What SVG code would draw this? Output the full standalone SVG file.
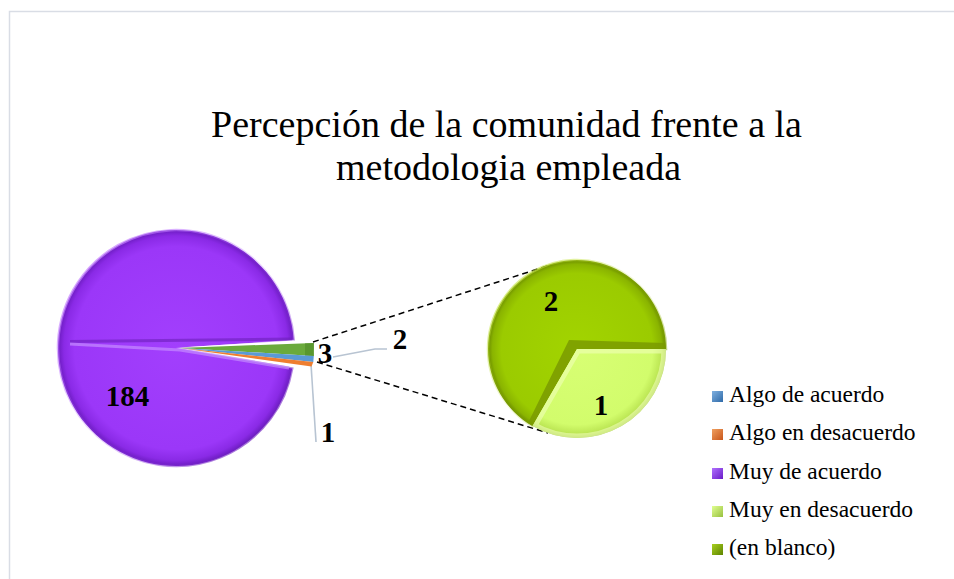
<svg xmlns="http://www.w3.org/2000/svg" width="954" height="579" viewBox="0 0 954 579">
<style>
.title{font-family:"Liberation Serif","Times New Roman",serif;font-size:38px;fill:#000;text-anchor:middle}
.lbl{font-family:"Liberation Serif","Times New Roman",serif;font-size:29px;font-weight:bold;fill:#000;text-anchor:middle}
.leg{font-family:"Liberation Serif","Times New Roman",serif;font-size:23.5px;fill:#000}
.dash{fill:none;stroke:#000;stroke-width:1.5;stroke-dasharray:6 4}
.leader{fill:none;stroke:#b8c4d2;stroke-width:1.6}
</style>
<defs>
<radialGradient id="gPurple" cx="176" cy="348" r="118" gradientUnits="userSpaceOnUse">
<stop offset="0" stop-color="#a23ffd"/><stop offset="0.86" stop-color="#9b37f8"/><stop offset="0.95" stop-color="#8a2ae6"/><stop offset="1" stop-color="#6c1cc0"/>
</radialGradient>
<linearGradient id="gRimP" x1="0" y1="0" x2="1" y2="1">
<stop offset="0" stop-color="#d39bff" stop-opacity="0.9"/><stop offset="0.5" stop-color="#a64bff" stop-opacity="0.2"/><stop offset="1" stop-color="#5a10a8" stop-opacity="0.8"/>
</linearGradient>
<radialGradient id="gDark" cx="577" cy="349" r="89" gradientUnits="userSpaceOnUse">
<stop offset="0" stop-color="#a2d400"/><stop offset="0.85" stop-color="#9bcb00"/><stop offset="0.95" stop-color="#8ab400"/><stop offset="1" stop-color="#6d8e00"/>
</radialGradient>
<radialGradient id="gLight" cx="577" cy="349" r="89" gradientUnits="userSpaceOnUse">
<stop offset="0" stop-color="#d8ff74"/><stop offset="0.85" stop-color="#d2fc6c"/><stop offset="0.95" stop-color="#bce654"/><stop offset="1" stop-color="#9cc43a"/>
</radialGradient>
<linearGradient id="gRimG" x1="0" y1="0" x2="1" y2="1">
<stop offset="0" stop-color="#d4f060" stop-opacity="0.8"/><stop offset="0.5" stop-color="#a8d000" stop-opacity="0.1"/><stop offset="1" stop-color="#5c7a00" stop-opacity="0.8"/>
</linearGradient>
<clipPath id="cLight"><path d="M577,349 L666,349 A89,89 0 0 1 532.5,426.1 Z"/></clipPath>
<linearGradient id="sqBlue" x1="0" y1="0" x2="1" y2="1"><stop offset="0" stop-color="#7fb0e0"/><stop offset="1" stop-color="#2f6aa8"/></linearGradient>
<linearGradient id="sqOrange" x1="0" y1="0" x2="1" y2="1"><stop offset="0" stop-color="#f0a060"/><stop offset="1" stop-color="#c8561a"/></linearGradient>
<linearGradient id="sqPurple" x1="0" y1="0" x2="1" y2="1"><stop offset="0" stop-color="#b070ff"/><stop offset="1" stop-color="#6a1cc8"/></linearGradient>
<linearGradient id="sqLight" x1="0" y1="0" x2="1" y2="1"><stop offset="0" stop-color="#e0ff90"/><stop offset="1" stop-color="#98c040"/></linearGradient>
<linearGradient id="sqGreen" x1="0" y1="0" x2="1" y2="1"><stop offset="0" stop-color="#a8d020"/><stop offset="1" stop-color="#5e8400"/></linearGradient>
</defs>

<rect x="0" y="0" width="954" height="579" fill="#ffffff"/>
<path d="M9.5,585 L9.5,11.5 L960,11.5" fill="none" stroke="#d9dde5" stroke-width="1.5"/>

<g id="title">
<text class="title" x="506.5" y="137">Percepción de la comunidad frente a la</text>
<text class="title" x="508.5" y="180">metodologia empleada</text>
</g>

<g id="connectors">
<path class="dash" d="M313,342 L550,265"/>
<path class="dash" d="M317,362 L548,433"/>
<path class="leader" d="M333,357 L375,349 L387,349"/>
<path class="leader" d="M311,364 L316,442"/>
</g>

<g id="pie-main">
<g id="slice-muy-de-acuerdo">
<path d="M176,348 L292.2,368.5 A118,118 0 1 1 293.7,339.8 Z" fill="url(#gPurple)"/>
<path d="M176,348 L292.2,368.5 A118,118 0 1 1 293.7,339.8 Z" fill="none" stroke="url(#gRimP)" stroke-width="2.5"/>
<path d="M70,341.5 L292,339" stroke="#6d20bb" stroke-width="3" opacity="0.6"/>
<path d="M70,344 L180,350 L289,368" stroke="#c58cff" stroke-width="3" fill="none" opacity="0.7"/>
<path d="M179,347.5 L294,340.5 L313,342.9 L313,345 Z" fill="#ffffff"/>
</g>
<g id="slice-en-blanco-main">
<path d="M180,348 L313.9,342.9 L313.8,355.9 Z" fill="#6aaa3c"/>
<path d="M305,343.2 L313.9,342.9 L313.8,355.9 L305,356" fill="#4e8a26" opacity="0.6"/>
</g>
<g id="slice-algo-de-acuerdo">
<path d="M180,348 L313.8,355.9 L313.3,362 Z" fill="#5a9ad6"/>
</g>
<g id="slice-algo-en-desacuerdo">
<path d="M180,348 L313.3,362 L311.5,366.5 Z" fill="#ee7e30"/>
</g>
<text class="lbl" x="127.5" y="406">184</text>
<text class="lbl" x="325" y="363">3</text>
<text class="lbl" x="400" y="349">2</text>
<text class="lbl" x="328" y="442">1</text>
</g>

<g id="pie-secondary">
<g id="slice-en-blanco">
<path d="M577,349 L532.5,426.1 A89,89 0 1 1 666,349 Z" fill="url(#gDark)"/>
<path d="M577,349 L532.5,426.1 A89,89 0 1 1 666,349 Z" fill="none" stroke="url(#gRimG)" stroke-width="2.5"/>
<path d="M569,340 L665,343 L666,349 L577,349 L532.5,426.1 L528,423 Z" fill="#7a9a00" opacity="0.85"/>
</g>
<g id="slice-muy-en-desacuerdo">
<path d="M577,349 L666,349 A89,89 0 0 1 532.5,426.1 Z" fill="url(#gLight)"/>
<path d="M577,349 L666,349 A89,89 0 0 1 532.5,426.1 Z" fill="none" stroke="#f0ffb8" stroke-width="9" opacity="0.6" clip-path="url(#cLight)"/>
</g>
<text class="lbl" x="551" y="311">2</text>
<text class="lbl" x="601" y="415">1</text>
</g>

<g id="legend">
<g id="leg-1"><rect x="712" y="391" width="11" height="11" fill="url(#sqBlue)"/><text class="leg" x="729" y="402">Algo de acuerdo</text></g>
<g id="leg-2"><rect x="712" y="429" width="11" height="11" fill="url(#sqOrange)"/><text class="leg" x="729" y="440">Algo en desacuerdo</text></g>
<g id="leg-3"><rect x="712" y="468" width="11" height="11" fill="url(#sqPurple)"/><text class="leg" x="729" y="479">Muy de acuerdo</text></g>
<g id="leg-4"><rect x="712" y="506" width="11" height="11" fill="url(#sqLight)"/><text class="leg" x="729" y="517">Muy en desacuerdo</text></g>
<g id="leg-5"><rect x="712" y="544" width="11" height="11" fill="url(#sqGreen)"/><text class="leg" x="729" y="555">(en blanco)</text></g>
</g>
</svg>
